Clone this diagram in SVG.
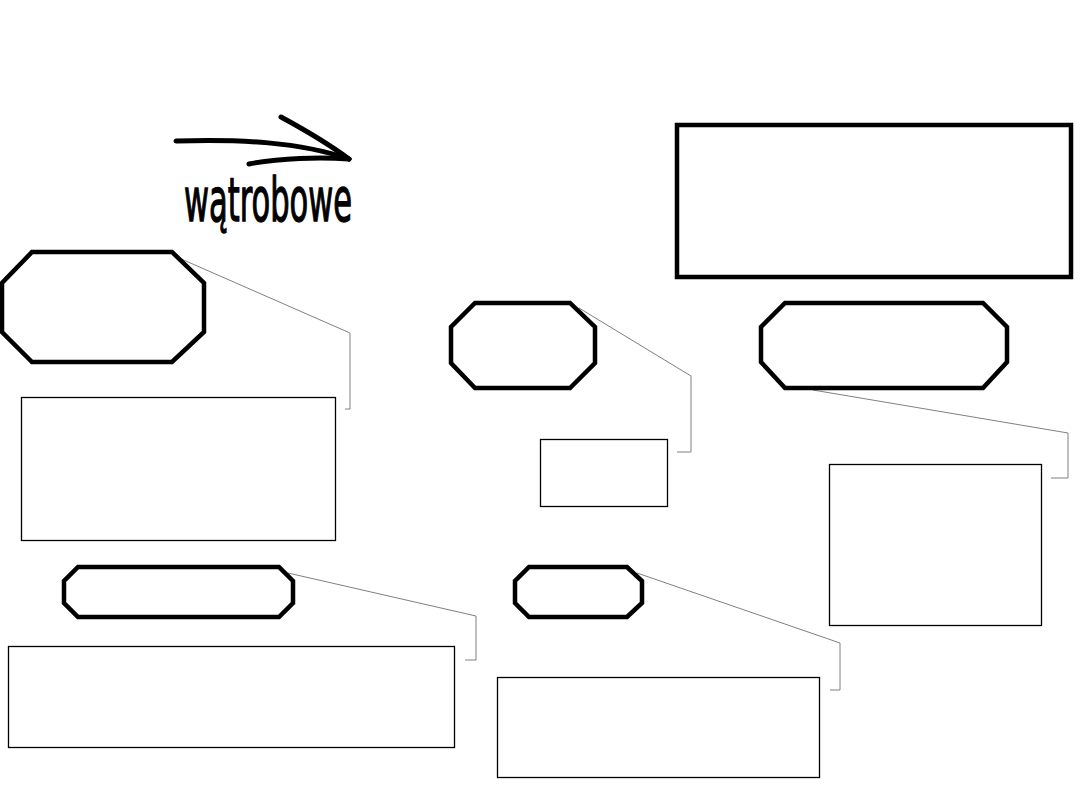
<svg xmlns="http://www.w3.org/2000/svg" width="1080" height="810" viewBox="0 0 1080 810">
<style>
.oct{fill:#fff;stroke:#000;stroke-width:4.5;stroke-linejoin:miter}
.box{fill:#fff;stroke:#000;stroke-width:1.3}
.big{fill:#fff;stroke:#000;stroke-width:4.5}
.co{fill:none;stroke:#808080;stroke-width:1}
.arr{fill:none;stroke:#000;stroke-width:5;stroke-linecap:round}
.lbl{font-family:"DejaVu Sans Condensed","DejaVu Sans",sans-serif;font-size:61px;fill:#000;stroke:#000;stroke-width:1.3}
</style>
<rect width="1080" height="810" fill="#fff"/>
<g id="arrow">
<path class="arr" d="M176,141 C240,139 300,142 349,159"/>
<path class="arr" d="M281,117 C305,130 330,145 349,159"/>
<path class="arr" d="M249,164 C280,158 320,157 349,159"/>
<text class="lbl" x="184" y="221" textLength="168" lengthAdjust="spacingAndGlyphs">wątrobowe</text>
</g>
<g id="connectors">
<polyline class="co" points="179,258 350,333 350,409 345,409"/>
<polyline class="co" points="579,308 691,376 691,452 677,452"/>
<polyline class="co" points="813,390 1068,433 1068,478 1051,478"/>
<polyline class="co" points="288,573 476,616 476,660 465,660"/>
<polyline class="co" points="637,573 840,643 840,690 830,690"/>
</g>
<g id="topbox"><rect class="big" x="677" y="125" width="394" height="152"/></g>
<g id="oct1"><polygon class="oct" points="32,252 172,252 204,283 204,332 172,362 32,362 2,332 2,283"/></g>
<g id="box1"><rect class="box" x="21.5" y="397.5" width="314" height="143"/></g>
<g id="oct2"><polygon class="oct" points="475,303 570,303 595,327 595,363 570,388 475,388 451,363 451,327"/></g>
<g id="box2"><rect class="box" x="540.5" y="439.5" width="127" height="67"/></g>
<g id="oct3"><polygon class="oct" points="785,303 983,303 1007,327 1007,362 983,388 785,388 761,362 761,327"/></g>
<g id="box3"><rect class="box" x="829.5" y="464.5" width="212" height="161"/></g>
<g id="oct4"><polygon class="oct" points="78,567 279,567 293,581 293,603 279,617 78,617 64,603 64,581"/></g>
<g id="box4"><rect class="box" x="8.5" y="646.5" width="446" height="101"/></g>
<g id="oct5"><polygon class="oct" points="529,567 627,567 642,581 642,603 627,617 529,617 515,603 515,581"/></g>
<g id="box5"><rect class="box" x="497.5" y="677.5" width="322" height="100"/></g>
</svg>
